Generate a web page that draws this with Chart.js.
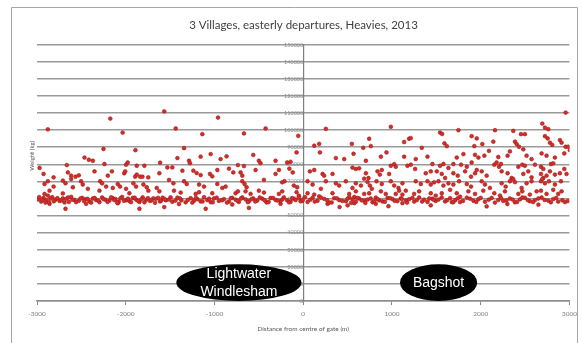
<!DOCTYPE html>
<html>
<head>
<meta charset="utf-8">
<script src="https://cdn.jsdelivr.net/npm/chart.js@4/dist/chart.umd.min.js"></script>
<style>
html,body{margin:0;padding:0;background:#fff;}
#wrap{position:relative;width:582px;height:343px;}
</style>
</head>
<body>
<div id="wrap"><canvas id="c" width="582" height="343"></canvas></div>
<script>
const chartTitle = '3 Villages, easterly departures, Heavies, 2013';
const xAxisTitle = 'Distance from centre of gate (m)';
const yAxisTitle = 'Weight (kg)';
const xTickValues = [-3000, -2000, -1000, 0, 1000, 2000, 3000];
const yTickValues = [0, 10000, 20000, 30000, 40000, 50000, 60000, 70000, 80000, 90000, 100000, 110000, 120000, 130000, 140000, 150000];
const areaLabels = [['Lightwater', 'Windlesham'], ['Bagshot']];

// [distance from centre of gate (m), weight (kg)]
const westPoints = [
[-2878,100500],[-2174,106800],[-2035,98600],[-1566,111000],[-2251,89000],[-1891,88300],[-2465,84000],[-2416,82700],[-2371,82100],[-2664,79600],[-2240,80200],[-1996,79800],[-1978,81100],[-1876,79200],[-1790,79200],[-1613,81000],[-2971,77900],[-2926,74400],[-2813,72400],[-2652,75300],[-2615,73400],[-2566,72800],[-2529,73600],[-2503,70100],[-2352,75900],[-2288,70100],[-2266,68900],[-2202,73400],[-2156,75900],[-2017,74800],[-2006,75900],[-1894,72800],[-1876,74000],[-1838,72800],[-1812,72800],[-1746,72400],[-1621,74800],[-2709,70500],[-2679,68900],[-2615,71400],[-2915,68500],[-2878,70100],[-2813,67000],[-2915,62700],[-2859,64600],[-2878,61700],[-2709,63000],[-2596,66600],[-2484,68200],[-2427,65700],[-2296,64600],[-2221,67000],[-2146,66200],[-2090,68500],[-2064,67000],[-1996,65700],[-1959,63100],[-1914,68900],[-1884,67000],[-1801,68200],[-1764,66600],[-1745,64600],[-1651,66200],[-1621,64200],
[-2679,54000],[-1846,54000],[-1566,55000],[-2859,56900],[-2447,56900],[-2090,57200],
[-2990,59500],[-2953,58200],[-2926,60300],[-2896,59000],[-2866,57800],[-2829,60800],[-2791,59400],[-2746,58600],[-2709,60100],[-2671,59800],[-2641,58000],[-2615,61000],[-2578,59200],[-2529,58700],[-2491,60400],[-2454,59600],[-2409,58300],[-2371,60000],[-2334,59100],[-2296,57900],[-2266,60600],[-2229,59300],[-2184,58800],[-2146,60200],[-2116,59700],[-2079,58100],[-2041,60900],[-1996,59000],[-1959,58500],[-1921,60300],[-1884,59400],[-1846,58000],[-1809,60700],[-1771,59200],[-1726,58600],[-1689,60100],[-1659,59800],[-1614,58300],[-1584,60500],[-1547,59000],
[-2975,60800],[-2940,59200],[-2905,57600],[-2850,59900],[-2810,58400],[-2770,60200],[-2725,58900],[-2690,57700],[-2650,60600],[-2600,59300],[-2560,57900],[-2510,60000],[-2470,58500],[-2430,59800],[-2390,57600],[-2350,60300],[-2310,58800],[-2250,59600],[-2205,58000],[-2165,60700],[-2130,59100],[-2095,57700],[-2060,60100],[-2020,58700],[-1975,59900],[-1940,57900],[-1900,60500],[-1860,58600],[-1825,59500],[-1790,57800],[-1750,60200],[-1710,59000],[-1670,57500],[-1635,60400],[-1600,58800],[-1560,59700],
[-960,107400],[-1437,101000],[-1137,97700],[-668,98100],[-424,101000],[-1343,89500],[-75,87000],[-1418,83700],[-1156,84500],[-1043,86000],[-864,84700],[-931,83100],[-1287,82100],[-1276,80700],[-563,85500],[-736,79600],[-668,79000],[-500,82100],[-481,80700],[-312,82100],[-181,81100],[-143,81500],[-1531,78200],[-1475,78200],[-1362,76300],[-1238,76300],[-1201,74900],[-1156,73700],[-1051,74400],[-1025,73000],[-968,76700],[-837,77500],[-788,75300],[-706,75300],[-687,73400],[-537,76700],[-312,74400],[-274,76700],[-156,77500],[-118,75300],[-1512,70900],[-1463,68900],[-1343,70100],[-1313,68500],[-1174,68200],[-1118,67000],[-968,68500],[-875,67000],[-687,70100],[-661,68500],[-638,66600],[-443,70900],[-237,69500],[-211,70100],[-106,67600],[-68,66600],[-1456,64600],[-1381,63500],[-1212,62700],[-1174,63700],[-1025,63100],[-912,66200],[-762,63100],[-736,64200],[-650,64200],[-593,62700],[-500,64600],[-443,63500],[-274,62700],[-237,64200],[-75,63700],[-49,61700],[-56,96700],
[-1099,54000],[-612,54500],[-256,56900],[-1400,56800],[-800,56500],
[-1512,59400],[-1475,58100],[-1418,60500],[-1373,59000],[-1325,57800],[-1268,60200],[-1231,58700],[-1193,59600],[-1156,58300],[-1118,60800],[-1081,59100],[-1043,57900],[-1006,60000],[-950,58600],[-893,59700],[-837,58200],[-800,60400],[-762,59300],[-725,58000],[-687,60600],[-650,59500],[-612,58400],[-563,60100],[-518,58800],[-462,59900],[-413,57700],[-368,60300],[-312,59200],[-256,58500],[-218,60700],[-181,59000],[-143,58100],[-106,59800],[-49,60400],[-11,58600],
[-1495,60700],[-1440,58800],[-1390,60100],[-1300,59200],[-1250,57600],[-1210,60400],[-1135,58300],[-1060,59900],[-1020,57800],[-975,60500],[-915,59000],[-860,57600],[-815,60200],[-740,58700],[-700,60000],[-625,57900],[-580,59700],[-540,58300],[-490,60600],[-435,59000],[-390,58000],[-340,60300],[-290,58800],[-235,59500],[-160,57800],[-125,60200],[-85,59100],[-30,58400]
];

const eastPoints = [
[255,100800],[987,102000],[124,90900],[180,92000],[188,87000],[548,92000],[676,89700],[762,90700],[743,95000],[1137,93100],[1193,95000],[1212,95400],[1336,89700],[368,83700],[462,83100],[567,86200],[706,82100],[875,84500],[938,87000],[1137,84500],[1268,83100],[1400,84500],[1456,80200],[75,75900],[124,76700],[218,74400],[236,73400],[330,74400],[555,78100],[593,77300],[630,77700],[706,74800],[736,72000],[837,75900],[863,74000],[885,76700],[987,79200],[1025,80100],[1043,78600],[968,74400],[1174,79200],[1212,79800],[1261,77300],[1381,74800],[1437,75900],[49,70100],[105,68200],[199,65700],[255,70100],[368,68900],[405,67600],[480,70100],[555,66200],[593,68900],[650,67600],[687,71600],[725,69700],[751,67600],[773,65700],[826,70100],[885,68500],[987,70100],[1025,67600],[1073,66200],[1118,68900],[1156,64600],[1268,70100],[1325,68500],[1400,70100],[1437,68200],[1475,69500],[49,63100],[124,62300],[180,61300],[330,63100],[518,62700],[593,64200],[575,60900],[687,62700],[743,63100],[875,64200],[930,62700],[1043,62700],[1081,64600],[1118,62300],[1250,62700],[1306,64200],[1437,63100],[1493,61700],
[274,56900],[500,56000],[575,57300],[818,56900],[1118,57300],[1437,56000],[410,55000],[960,55500],
[-7,59200],[49,58000],[105,60400],[161,58700],[236,59800],[293,57600],[349,60200],[405,59100],[480,58400],[518,60700],[555,59500],[593,58100],[630,60000],[687,58800],[725,59400],[781,57800],[818,60500],[856,59000],[893,58300],[950,60300],[1006,59700],[1062,58500],[1099,60100],[1156,58900],[1193,59600],[1250,58200],[1306,60600],[1362,59300],[1400,58000],[1456,59900],[1493,58600],
[20,60800],[80,59300],[130,58200],[200,60500],[270,59000],[320,57700],[380,60100],[440,58600],[500,59900],[540,57500],[610,60300],[660,58900],[700,57400],[760,60000],[800,58400],[840,59600],[920,58100],[980,60200],[1030,58700],[1110,59800],[1170,57600],[1230,60400],[1280,59100],[1340,58200],[1420,60000],[1470,59300],
[2957,110300],[1749,100000],[2161,100000],[2367,99600],[1542,98600],[1565,97800],[2694,103900],[2724,101500],[2762,100600],[2454,97700],[2498,97700],[2724,96500],[2754,95200],[1898,96500],[1955,95200],[2142,93300],[1591,92300],[1618,90700],[1928,90700],[2018,91900],[2386,93300],[2405,91900],[2431,90300],[2480,88800],[2780,92700],[2806,91400],[2892,94200],[2911,92700],[2956,90300],[1730,84000],[1805,86000],[1936,85600],[1974,84000],[2041,85100],[2093,87900],[2198,84300],[2303,85100],[2329,87600],[2517,85100],[2573,83100],[2686,86400],[2742,85100],[2836,84000],[2942,86400],[2986,90300],[3005,88300],[1542,79200],[1580,80200],[1636,77900],[1692,80200],[1779,79800],[1843,78600],[1898,81100],[1955,76700],[2153,79800],[2179,81100],[2206,78600],[2228,80200],[2424,78600],[2468,79800],[2498,79200],[2611,79800],[2679,78600],[2705,77300],[2791,80200],[2817,80600],[2942,77300],[2967,74400],[1505,75900],[1561,74400],[1599,72000],[1692,74800],[1741,73400],[1824,75900],[1891,72800],[1936,74800],[2011,75900],[2067,73400],[2236,75900],[2303,74800],[2348,72000],[2480,74400],[2536,75900],[2573,72400],[2679,74400],[2705,72000],[2742,73400],[2780,75900],[2836,74000],[2892,74800],[1524,70100],[1580,67600],[1636,68900],[1692,68200],[1756,70100],[1843,68500],[1891,67000],[2011,70100],[2048,68200],[2104,66200],[2236,68900],[2281,67000],[2329,70100],[2367,71400],[2386,69600],[2461,66200],[2517,68900],[2573,70100],[2679,70100],[2694,71400],[2724,68900],[2769,70100],[2836,68200],[2904,70100],[1561,63100],[1655,65100],[1730,63100],[1767,61100],[1861,64200],[1936,62700],[2029,64600],[2153,63100],[2217,61700],[2273,64200],[2424,62700],[2468,64200],[2554,62300],[2630,64200],[2679,64600],[2742,62700],[2817,65100],[2873,62700],[2911,64200],
[1674,57900],[2067,55400],[2949,57900],[2300,56800],[2650,56400],
[1524,59400],[1599,58300],[1655,60200],[1711,59000],[1767,57900],[1843,60500],[1918,58700],[1974,59600],[2048,58100],[2123,60300],[2198,59200],[2254,58600],[2329,60000],[2386,57800],[2442,59500],[2498,60400],[2554,58400],[2611,59100],[2686,60600],[2761,58800],[2817,59700],[2873,58200],
[1560,60600],[1620,59000],[1690,57800],[1740,60100],[1800,58600],[1880,59900],[1950,58000],[2000,60400],[2090,59300],[2160,57600],[2230,60200],[2290,58900],[2360,59400],[2410,58000],[2470,60600],[2530,59100],[2590,57900],[2650,60000],[2720,59200],[2790,57800],[2850,60300],[2920,59000],[2980,58500]
];

const toXY = p => ({ x: p[0], y: p[1] });

const decorPlugin = {
  id: 'decor',
  beforeDraw(chart) {
    const ctx = chart.ctx;
    ctx.save();
    ctx.strokeStyle = '#a6a6a6';
    ctx.lineWidth = 1;
    ctx.beginPath();
    ctx.moveTo(11.5, 343);
    ctx.lineTo(11.5, 7.5);
    ctx.lineTo(577.5, 7.5);
    ctx.lineTo(577.5, 343);
    ctx.stroke();
    ctx.restore();
  },
  afterDraw(chart) {
    const ctx = chart.ctx;
    const xs = chart.scales.x, ys = chart.scales.y;
    ctx.save();
    ctx.translate(32, ys.getPixelForValue(85000));
    ctx.rotate(-Math.PI / 2);
    ctx.fillStyle = '#595959';
    ctx.font = '6px Lato';
    ctx.textAlign = 'center';
    ctx.textBaseline = 'middle';
    ctx.fillText(yAxisTitle, 0, 0);
    ctx.restore();

    const ovals = [
      { x0: -1430, x1: -20, y0: 0, y1: 21500, lines: areaLabels[0] },
      { x0: 1090, x1: 1960, y0: 0, y1: 21500, lines: areaLabels[1] }
    ];
    ovals.forEach(o => {
      const l = xs.getPixelForValue(o.x0), r = xs.getPixelForValue(o.x1);
      const t = ys.getPixelForValue(o.y1), b = ys.getPixelForValue(o.y0);
      const cx = (l + r) / 2, cy = (t + b) / 2;
      ctx.save();
      ctx.beginPath();
      ctx.ellipse(cx, cy, (r - l) / 2, (b - t) / 2, 0, 0, Math.PI * 2);
      ctx.fillStyle = '#000';
      ctx.fill();
      ctx.fillStyle = '#fff';
      ctx.font = '14px "Liberation Sans", Arial, sans-serif';
      ctx.textAlign = 'center';
      ctx.textBaseline = 'middle';
      const lh = 18;
      const start = cy - (o.lines.length - 1) * lh / 2 + 1;
      o.lines.forEach((s, i) => ctx.fillText(s, cx, start + i * lh));
      ctx.restore();
    });
  }
};

new Chart(document.getElementById('c'), {
  type: 'scatter',
  data: {
    datasets: [{
      label: 'Heavies',
      data: westPoints.concat(eastPoints).map(toXY),
      backgroundColor: '#d92b27',
      borderColor: '#9c2020',
      borderWidth: 0.6,
      pointRadius: 1.9,
      pointHoverRadius: 1.9
    }]
  },
  options: {
    responsive: false,
    animation: false,
    devicePixelRatio: 1,
    layout: { padding: { left: 37, right: 12, top: 0, bottom: 10 } },
    plugins: {
      legend: { display: false },
      tooltip: { enabled: false },
      title: {
        display: true,
        text: chartTitle,
        color: '#404040',
        font: { family: 'Lato', size: 11.5, weight: 'normal' },
        padding: { top: 18, bottom: 13 }
      }
    },
    scales: {
      x: {
        type: 'linear',
        min: xTickValues[0],
        max: xTickValues[xTickValues.length - 1],
        afterBuildTicks: s => { s.ticks = xTickValues.map(v => ({ value: v })); },
        afterFit: s => { s.height = 32; },
        grid: { display: true, drawOnChartArea: false, drawTicks: true, tickLength: 4, color: '#888' },
        border: { display: true, color: '#8c8c8c', width: 1.5 },
        ticks: { color: '#7f7f7f', font: { family: 'Lato', size: 6.5 }, padding: 5, maxRotation: 0, autoSkip: false, callback: v => String(v) },
        title: { display: true, text: xAxisTitle, color: '#595959', font: { family: 'Lato', size: 6.5 }, padding: { top: 3, bottom: 0 } }
      },
      y: {
        type: 'linear',
        position: { x: 0 },
        min: yTickValues[0],
        max: yTickValues[yTickValues.length - 1],
        afterBuildTicks: s => { s.ticks = yTickValues.map(v => ({ value: v })); },
        grid: { color: '#9a9a9a', lineWidth: 1.6, drawTicks: false },
        border: { display: true, color: '#7f7f7f', width: 1.2 },
        ticks: { color: '#8c8c8c', font: { family: 'Lato', size: 5.5 }, padding: 4, autoSkip: false, callback: v => String(v) }
      }
    }
  },
  plugins: [decorPlugin]
});
</script>
</body>
</html>
